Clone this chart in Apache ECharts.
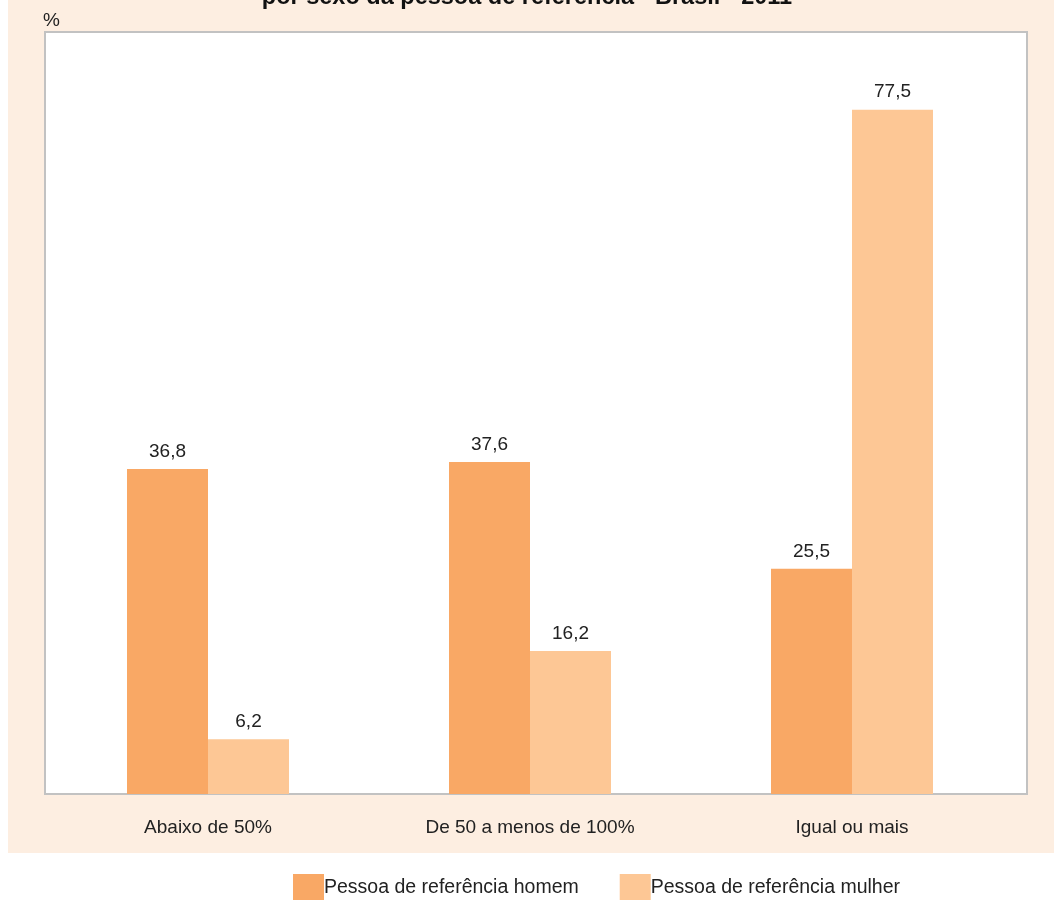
<!DOCTYPE html>
<html>
<head>
<meta charset="utf-8">
<script src="https://cdn.jsdelivr.net/npm/echarts@6/dist/echarts.min.js"></script>
<style>
html, body { margin: 0; padding: 0; background: #fff; }
#main { width: 1054px; height: 900px; }
</style>
</head>
<body>
<div id="main"></div>
<script>
var categorias = ['Abaixo de 50%', 'De 50 a menos de 100%', 'Igual ou mais'];
var homem = [36.8, 37.6, 25.5];
var mulher = [6.2, 16.2, 77.5];
var nomes = ['Pessoa de referência homem', 'Pessoa de referência mulher'];

var myChart = echarts.init(document.getElementById('main'));

function rotulo(v) {
	return v.value.toFixed(1).replace('.', ',');
}

var option = {
	backgroundColor: '#fff',
	animation: false,
	textStyle: { fontFamily: 'Liberation Sans, Arial, sans-serif' },
	title: {
		text: 'por sexo da pessoa de referência - Brasil - 2011',
		left: 'center',
		top: -19,
		textStyle: { fontSize: 23.5, fontWeight: 'bold', color: '#111' }
	},
	graphic: [{
		type: 'rect',
		z: -10,
		shape: { x: 8, y: 0, width: 1046, height: 853 },
		style: { fill: '#FDEEE1' }
	}, {
		// caixa branca do grafico
		type: 'rect',
		z: -5,
		shape: { x: 45, y: 32, width: 982, height: 762 },
		style: { fill: '#fff', stroke: '#c2c2c2', lineWidth: 2 }
	}, {
		type: 'text',
		left: 43,
		top: 11,
		style: { text: '%', fill: '#222', font: '19px Liberation Sans' }
	}],
	legend: {
		top: 874,
		left: 293,
		padding: 0,
		itemWidth: 31,
		itemHeight: 27,
		itemGap: 41,
		icon: 'rect',
		textStyle: { fontSize: 19.5, color: '#222', padding: [3, 0, 0, -5] },
		data: nomes
	},
	grid: {
		left: 47,
		right: 41,
		top: 32,
		bottom: 106
	},
	xAxis: {
		type: 'category',
		data: categorias,
		axisLine: { show: false },
		axisTick: { show: false },
		axisLabel: { fontSize: 19, color: '#222', margin: 24 }
	},
	yAxis: {
		type: 'value',
		min: 0,
		max: 86.3,
		show: false,
		splitLine: { show: false }
	},
	series: [{
		name: nomes[0],
		type: 'bar',
		data: homem,
		barWidth: 81,
		barGap: '0%',
		itemStyle: { color: '#F9A865' },
		label: { show: true, position: 'top', distance: 8, fontSize: 19, color: '#222', formatter: rotulo }
	}, {
		name: nomes[1],
		type: 'bar',
		data: mulher,
		barWidth: 81,
		itemStyle: { color: '#FDC795' },
		label: { show: true, position: 'top', distance: 8, fontSize: 19, color: '#222', formatter: rotulo }
	}]
};

myChart.setOption(option);
</script>
</body>
</html>
